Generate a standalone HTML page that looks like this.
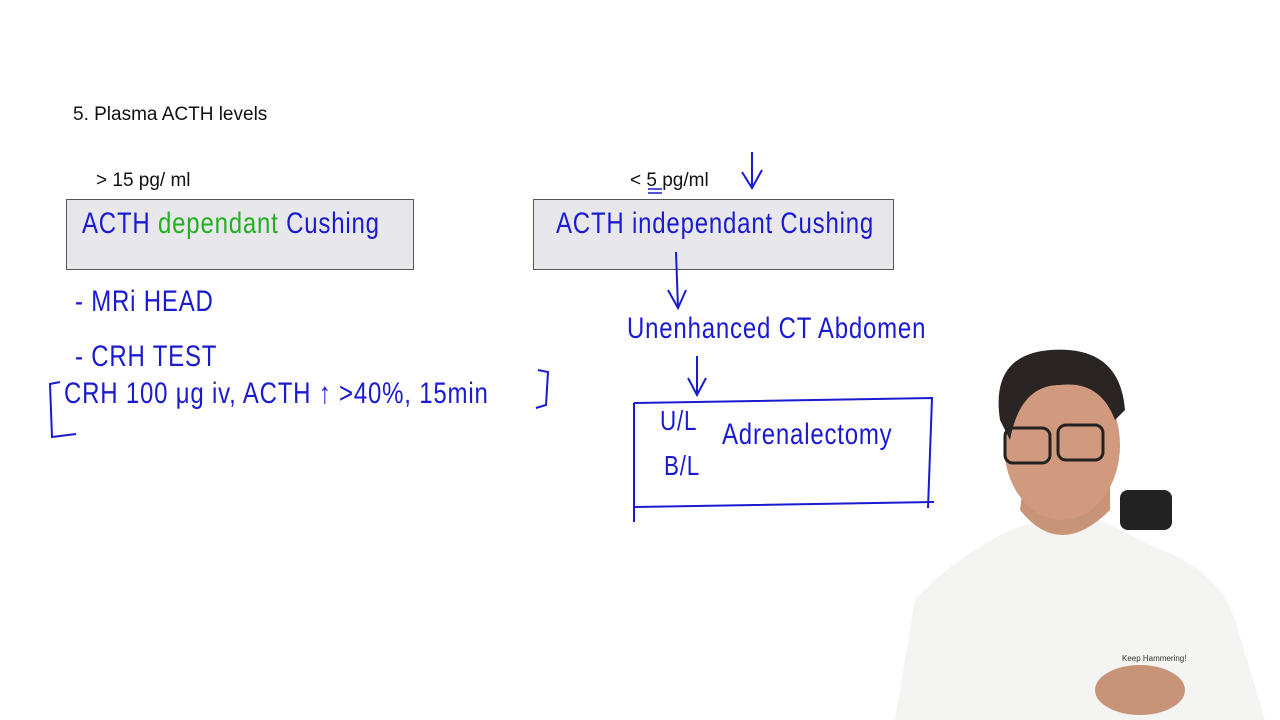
<!DOCTYPE html>
<html><head><style>
body{margin:0;width:1280px;height:720px;background:#fff;position:relative;overflow:hidden;font-family:"Liberation Sans",sans-serif}
.t{position:absolute;font-size:19px;color:#111}
.box{position:absolute;background:#e8e8ec;border:1px solid #555}
.h{position:absolute;font-family:"Liberation Sans",sans-serif;color:#1a1ad0;font-size:30px;letter-spacing:1px;transform:scaleX(0.8);transform-origin:left}
</style></head><body>
<div class="t" style="left:73px;top:104px">5. Plasma ACTH levels</div>
<div class="t" style="left:96px;top:170px">&gt; 15 pg/ ml</div>
<div class="t" style="left:630px;top:170px">&lt; 5 pg/ml</div>
<div class="box" style="left:66px;top:199px;width:346px;height:69px"></div>
<div class="box" style="left:533px;top:199px;width:359px;height:69px"></div>
<div class="h" style="left:82px;top:207px">ACTH <span style="color:#20b020">dependant</span> Cushing</div>
<div class="h" style="left:556px;top:207px">ACTH independant Cushing</div>
<div class="h" style="left:75px;top:285px">-  MRi  HEAD</div>
<div class="h" style="left:75px;top:340px">-  CRH  TEST</div>
<div class="h" style="left:64px;top:377px">CRH 100 μg iv, ACTH ↑ &gt;40%, 15min</div>
<div class="h" style="left:627px;top:312px">Unenhanced CT Abdomen</div>
<div class="h" style="left:660px;top:405px;font-size:28px">U/L</div>
<div class="h" style="left:664px;top:450px;font-size:28px">B/L</div>
<div class="h" style="left:722px;top:418px">Adrenalectomy</div>
<svg width="1280" height="720" style="position:absolute;left:0;top:0" fill="none" stroke="#1a1ad0" stroke-width="2">
<path d="M60 382 L50 384 L52 437 L76 434"/>
<path d="M538 370 L548 372 L546 405 L536 408"/>
<path d="M634 403 L932 398 L928 508 M634 403 L634 522 M634 507 L934 502"/>
<path d="M752 152 L752 186 M742 172 L752 188 L762 170"/>
<path d="M676 252 L678 308 M668 290 L678 308 L686 290"/>
<path d="M697 356 L697 394 M688 378 L697 395 L706 378"/>
<path d="M648 189 L662 189 M648 193 L662 193" stroke-width="1.5"/>
</svg>
<svg width="1280" height="720" style="position:absolute;left:0;top:0">
<rect x="1120" y="490" width="52" height="40" rx="8" fill="#222"/>
<path d="M895 720 L915 600 Q950 560 1010 530 L1040 520 L1100 520 L1150 545 Q1220 570 1235 620 L1265 720 Z" fill="#f4f4f2"/>
<path d="M1020 510 Q1060 560 1110 510 L1110 470 L1025 470 Z" fill="#c89478"/>
<ellipse cx="1062" cy="445" rx="58" ry="75" fill="#d19a7e"/>
<path d="M1000 420 Q990 355 1050 350 Q1120 345 1125 410 L1115 420 Q1100 380 1060 385 Q1020 385 1010 440 Z" fill="#2a2522"/>
<rect x="1005" y="428" width="45" height="35" rx="8" fill="none" stroke="#222" stroke-width="3"/>
<rect x="1058" y="425" width="45" height="35" rx="8" fill="none" stroke="#222" stroke-width="3"/>
<ellipse cx="1140" cy="690" rx="45" ry="25" fill="#c89478"/>
</svg>
<div style="position:absolute;left:1122px;top:654px;font-size:8px;color:#333">Keep Hammering!</div>
</body></html>
